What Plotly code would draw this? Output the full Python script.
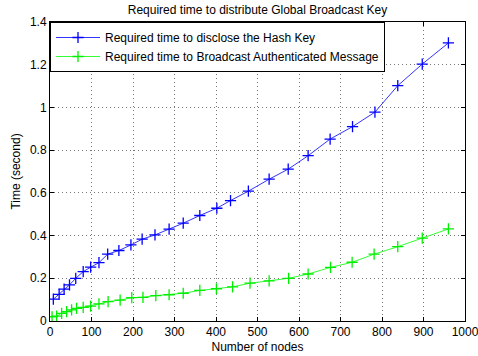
import plotly.graph_objects as go

# Number of nodes sampled for each curve
nodes_hash = [8, 22, 34, 47, 62, 80, 98, 118, 139, 166, 195, 222, 253, 287,
              321, 361, 402, 435, 478, 528, 574, 622, 675, 729, 783, 838, 897, 960]
nodes_auth = [5, 16, 28, 40, 52, 64, 80, 98, 118, 140, 169, 197, 224, 255, 287,
              321, 361, 401, 440, 482, 528, 575, 622, 676, 728, 781, 838, 897, 960]

# Required time (seconds)
time_hash = [0.102, 0.125, 0.149, 0.169, 0.200, 0.231, 0.252, 0.273, 0.313, 0.330,
             0.356, 0.383, 0.403, 0.430, 0.458, 0.494, 0.528, 0.564, 0.608, 0.664,
             0.711, 0.774, 0.852, 0.910, 0.978, 1.102, 1.203, 1.302]
time_auth = [0.020, 0.023, 0.036, 0.044, 0.052, 0.059, 0.064, 0.070, 0.080, 0.091,
             0.098, 0.109, 0.111, 0.119, 0.123, 0.130, 0.143, 0.151, 0.160, 0.177,
             0.188, 0.200, 0.220, 0.251, 0.275, 0.313, 0.348, 0.388, 0.431]

series_names = ["Required time to disclose the Hash Key",
                "Required time to Broadcast Authenticated Message"]

x_ticks = list(range(0, 1001, 100))
y_ticks = [0, 0.2, 0.4, 0.6, 0.8, 1.0, 1.2, 1.4]
y_tick_text = ["0", "0.2", "0.4", "0.6", "0.8", "1", "1.2", "1.4"]

FONT = "Liberation Sans, Arial, sans-serif"

fig = go.Figure()
fig.add_trace(go.Scatter(
    x=nodes_hash, y=time_hash, name=series_names[0], mode="lines+markers",
    line=dict(color="#3333ff", width=1),
    marker=dict(symbol="cross-thin", size=8, line=dict(color="#0000ff", width=1.3)),
))
fig.add_trace(go.Scatter(
    x=nodes_auth, y=time_auth, name=series_names[1], mode="lines+markers",
    line=dict(color="#33ff33", width=1),
    marker=dict(symbol="cross-thin", size=8, line=dict(color="#00ee00", width=1.3)),
))

axis_common = dict(
    showline=True, linecolor="black", linewidth=1, mirror="allticks",
    ticks="inside", ticklen=4, tickcolor="black",
    showgrid=True, gridcolor="#777777", griddash="1px,3px", gridwidth=1,
    zeroline=False, automargin=False, ticklabeloverflow="allow",
    tickfont=dict(family=FONT, size=12, color="black"),
)

fig.update_layout(
    width=478, height=356,
    margin=dict(l=50, r=13, t=22, b=35),
    paper_bgcolor="white", plot_bgcolor="white",
    font=dict(family=FONT, size=12, color="black"),
    title=dict(text="Required time to distribute Global Broadcast Key",
               x=0.5, xref="paper", xanchor="center",
               y=1 - 10 / 356, yref="container", yanchor="middle",
               font=dict(family=FONT, size=12, color="black")),
    xaxis=dict(range=[0, 1000], tickvals=x_ticks,
               title=dict(text="Number of nodes", standoff=4,
                          font=dict(family=FONT, size=12)),
               **axis_common),
    yaxis=dict(range=[0, 1.4], tickvals=y_ticks, ticktext=y_tick_text,
               title=dict(text="Time (second)", standoff=6,
                          font=dict(family=FONT, size=12)),
               **axis_common),
    legend=dict(x=0, y=1, xanchor="left", yanchor="top",
                bgcolor="white", bordercolor="black", borderwidth=1,
                font=dict(family=FONT, size=12, color="black"),
                itemwidth=44, tracegroupgap=0),
    showlegend=True,
)

fig.write_html("out.html")
